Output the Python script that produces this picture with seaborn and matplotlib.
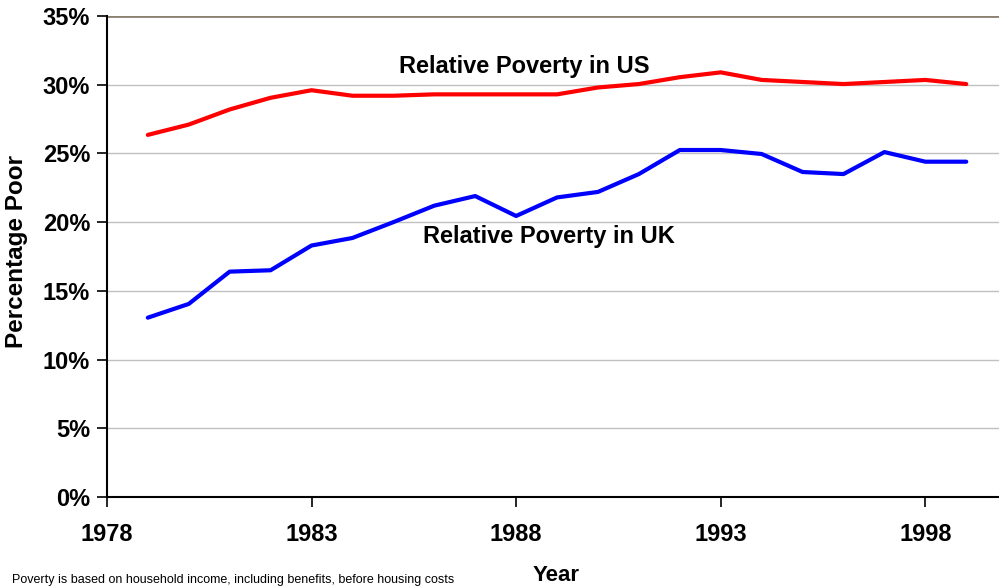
import numpy as np
import pandas as pd
import matplotlib.pyplot as plt
import seaborn as sns
from matplotlib.ticker import FuncFormatter

years = list(range(1979, 2000))
us_poverty = [26.35, 27.1, 28.2, 29.05, 29.6, 29.2, 29.2, 29.3, 29.3, 29.3, 29.3,
              29.8, 30.05, 30.55, 30.9, 30.35, 30.2, 30.05, 30.2, 30.35, 30.05]
uk_poverty = [13.05, 14.05, 16.4, 16.5, 18.3, 18.85, 20.0, 21.2, 21.9, 20.45, 21.8,
              22.2, 23.5, 25.25, 25.25, 24.96, 23.65, 23.5, 25.1, 24.4, 24.4]

df = pd.DataFrame({
    'Year': years * 2,
    'Poor': us_poverty + uk_poverty,
    'Country': ['US'] * len(years) + ['UK'] * len(years),
})

sns.set_theme(style='white')
plt.rcParams['font.family'] = ['Liberation Sans', 'DejaVu Sans']
plt.rcParams['text.color'] = 'black'
plt.rcParams['xtick.color'] = 'black'
plt.rcParams['ytick.color'] = 'black'

fig = plt.figure(figsize=(9.99, 5.87), dpi=100)
ax = fig.add_axes([0.107, 0.1533, 0.893, 0.8194])

sns.lineplot(data=df, x='Year', y='Poor', hue='Country',
             palette={'US': '#ff0000', 'UK': '#0000ff'},
             linewidth=3, legend=False, ax=ax)

ax.set_xlim(1978, 1999.8)
ax.set_ylim(0, 35)
ax.set_xticks([1978, 1983, 1988, 1993, 1998])
ax.set_yticks(np.arange(0, 36, 5))
ax.yaxis.set_major_formatter(FuncFormatter(lambda v, p: f'{int(v)}%'))

# gridlines
for v in range(5, 35, 5):
    ax.axhline(v, color='#c0c0c0', linewidth=1, zorder=0)
ax.axhline(35, color='#8c8070', linewidth=2, zorder=0)

for s in ['top', 'right']:
    ax.spines[s].set_visible(False)
for s in ['left', 'bottom']:
    ax.spines[s].set_color('black')
    ax.spines[s].set_linewidth(1.5)

ax.tick_params(axis='both', direction='out', length=7, width=1.2, color='black',
               labelsize=17, labelcolor='black', left=True, bottom=True)
ax.tick_params(axis='y', pad=5)
ax.tick_params(axis='x', pad=12)
for lab in ax.get_xticklabels() + ax.get_yticklabels():
    lab.set_fontweight('bold')

ax.set_xlabel('')
ax.set_ylabel('')
fig.text(0.017, 0.572, 'Percentage Poor', rotation=90, ha='center', va='center',
         fontsize=17.5, fontweight='bold')
fig.text(0.557, 0.02, 'Year', ha='center', va='center', fontsize=16, fontweight='bold')

ax.text(1988.2, 31.35, 'Relative Poverty in US', ha='center', va='center',
        fontsize=17, fontweight='bold')
ax.text(1988.8, 18.95, 'Relative Poverty in UK', ha='center', va='center',
        fontsize=17, fontweight='bold')

fig.text(0.012, 0.002, 'Poverty is based on household income, including benefits, before housing costs',
         ha='left', va='bottom', fontsize=9)

fig.savefig('out.png', dpi=100)
